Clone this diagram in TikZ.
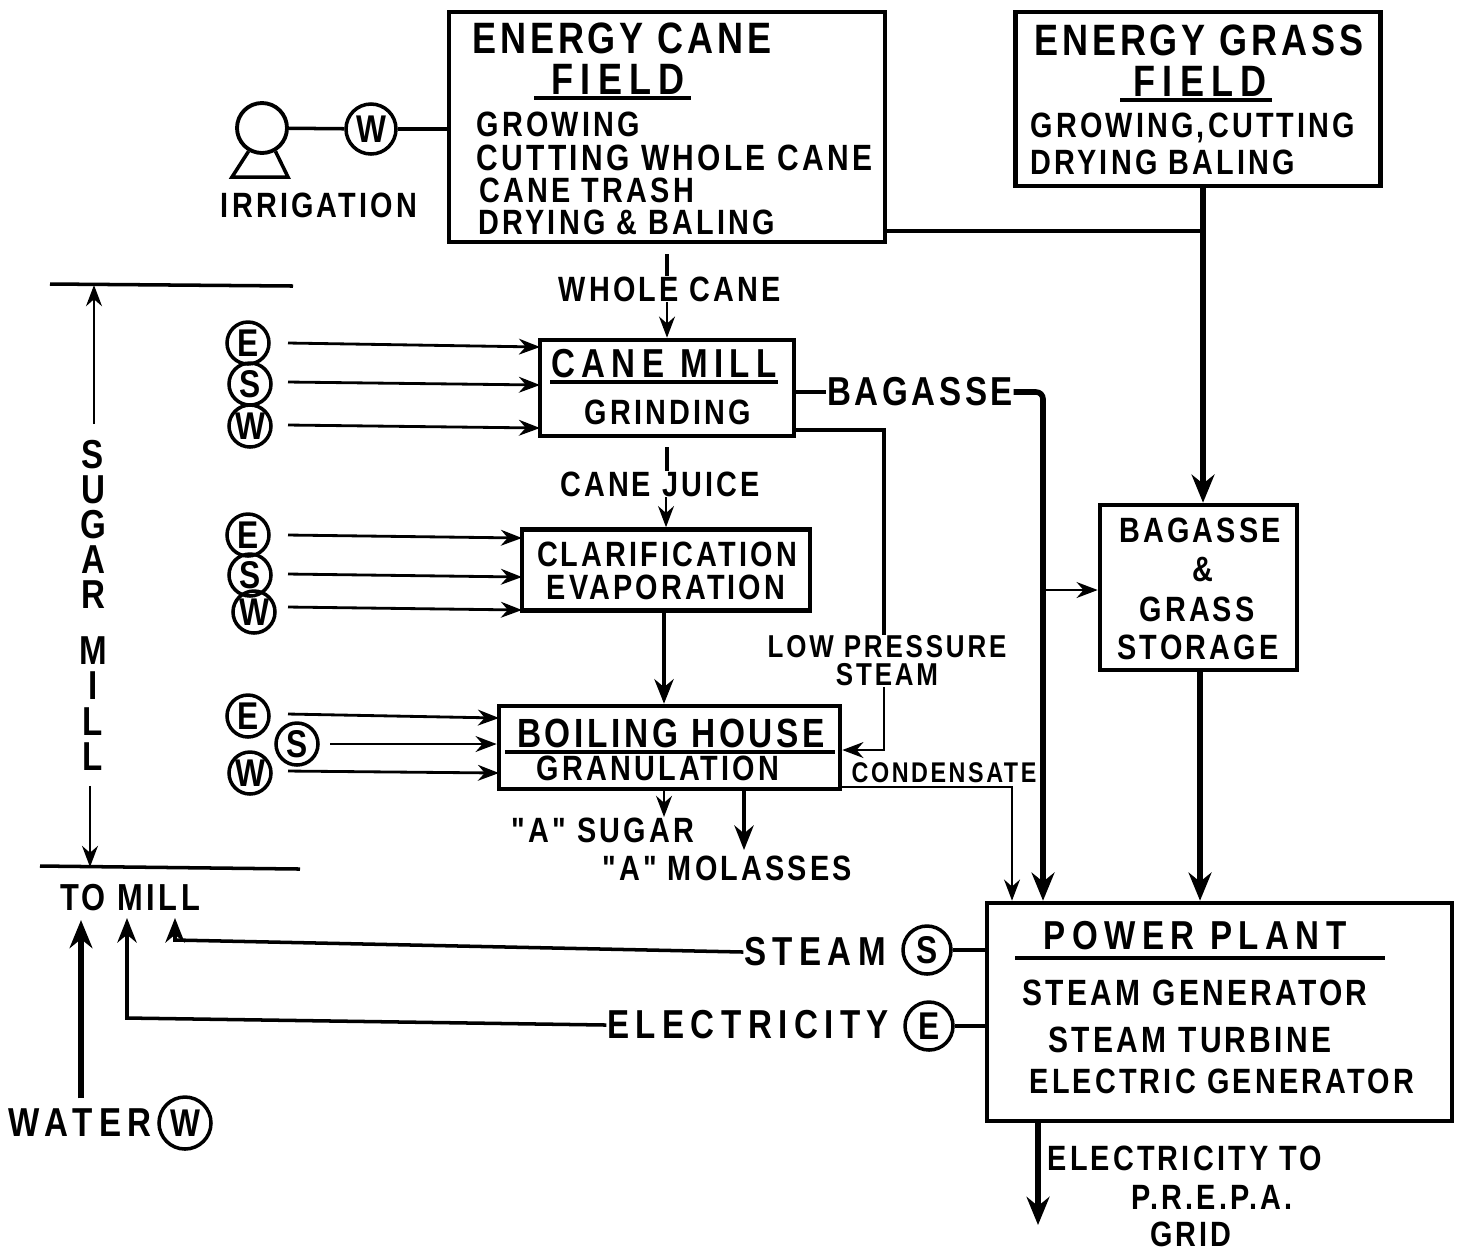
\documentclass[tikz,border=0pt]{standalone}
\usepackage{fontspec}
\newfontfamily\plantfont[LetterSpace=9,FakeStretch=0.82]{Liberation Sans}
\newfontfamily\plantwide[LetterSpace=16,FakeStretch=0.82]{Liberation Sans}
\usetikzlibrary{arrows.meta}
\tikzset{
  procbox/.style={draw,line width=1.3pt,inner sep=0pt},
  bigtxt/.style={inner sep=0pt,font=\plantfont\bfseries\fontsize{12.5}{15}\selectfont},
  fieldtxt/.style={inner sep=0pt,font=\plantwide\bfseries\fontsize{12.5}{15}\selectfont},
  widetxt/.style={inner sep=0pt,font=\plantwide\bfseries\fontsize{11.5}{14}\selectfont},
  smalltxt/.style={inner sep=0pt,font=\plantfont\bfseries\fontsize{10}{12}\selectfont},
  longtxt/.style={inner sep=0pt,font=\plantfont\bfseries\fontsize{10.4}{12}\selectfont},
  tinytxt/.style={inner sep=0pt,font=\plantfont\bfseries\fontsize{9}{11}\selectfont},
  letterc/.style={draw,circle,line width=1pt,inner sep=0pt,minimum size=0.42cm,font=\plantfont\bfseries\fontsize{11}{12}\selectfont},
  titlerule/.style={fill=black,inner sep=0pt,minimum height=1pt},
  flow/.style={line width=1pt,-{Stealth[length=7pt,width=5.5pt]}},
  feed/.style={line width=0.8pt,-{Stealth[length=6pt,width=4.5pt]}},
  heavy/.style={line width=1.6pt,-{Stealth[length=8pt,width=6.5pt]}},
  plain/.style={line width=1pt}
}
\begin{document}
\begin{tikzpicture}
  \useasboundingbox (0,0) rectangle (14.62,-12.49);

  % Fields
  \node[procbox,minimum width=4.36cm,minimum height=2.30cm] (canefield) at (6.67,-1.27) {};
  \node[bigtxt] (canetitle) at (6.22,-0.38) {ENERGY CANE};
  \node[fieldtxt] (canetitleb) at (6.18,-0.79) {FIELD};
  \node[titlerule,minimum width=1.57cm] (canerule) at (6.12,-0.98) {};
  \node[smalltxt,anchor=west] (growing) at (4.76,-1.24) {GROWING};
  \node[longtxt,anchor=west] (cutting) at (4.76,-1.58) {CUTTING WHOLE CANE};
  \node[smalltxt,anchor=west] (trash) at (4.79,-1.90) {CANE TRASH};
  \node[smalltxt,anchor=west] (drying) at (4.78,-2.22) {DRYING \& BALING};

  \node[procbox,minimum width=3.65cm,minimum height=1.74cm] (grassfield) at (11.98,-0.99) {};
  \node[bigtxt] (grasstitle) at (11.99,-0.40) {ENERGY GRASS};
  \node[fieldtxt] (grasstitleb) at (12.00,-0.81) {FIELD};
  \node[titlerule,minimum width=1.52cm] (grassrule) at (11.96,-1.00) {};
  \node[smalltxt,anchor=west] (grassgrow) at (10.30,-1.28) {GROWING,CUTTING};
  \node[smalltxt,anchor=west] (grassdry) at (10.30,-1.62) {DRYING BALING};

  % Irrigation
  \node[draw,circle,line width=1.1pt,minimum size=0.5cm,inner sep=0pt] (pump) at (2.62,-1.28) {};
  \draw[line width=1pt] (pump.240) -- (2.32,-1.77) -- (2.88,-1.77) -- (pump.300);
  \node[letterc,minimum size=0.5cm] (irrw) at (3.71,-1.29) {W};
  \node[smalltxt] (irrigation) at (3.19,-2.05) {IRRIGATION};
  \draw[plain] (pump) -- (irrw);
  \draw[plain] (irrw) -- (canefield.west |- irrw);

  % Sugar mill
  \draw[plain] (0.50,-2.84) coordinate (topl) -- (2.93,-2.86) coordinate (topr);
  \draw[plain] (0.40,-8.66) coordinate (botl) -- (3.00,-8.69) coordinate (botr);
  \node[smalltxt,align=center,font=\plantfont\bfseries\fontsize{11.5}{12}\selectfont] (sugarmill) at (0.93,-6.05) {S\\[-2pt]U\\[-2pt]G\\[-2pt]A\\[-2pt]R\\[4pt]M\\[-2pt]I\\[-2pt]L\\[-2pt]L};
  \coordinate (topa) at (0.94,-2.85);
  \coordinate (bota) at (0.90,-8.67);
  \draw[feed,shorten <=0.15cm] (sugarmill.north -| topa) -- (topa);
  \draw[feed,shorten <=0.15cm] (sugarmill.south -| bota) -- (bota);

  % Cane mill
  \node[procbox,minimum width=2.54cm,minimum height=0.96cm] (canemill) at (6.67,-3.88) {};
  \node[widetxt] (milltitle) at (6.64,-3.64) {CANE MILL};
  \node[titlerule,minimum width=2.28cm] (millrule) at (6.64,-3.82) {};
  \node[smalltxt] (grinding) at (6.68,-4.12) {GRINDING};
  \node[smalltxt] (wholecane) at (6.70,-2.89) {WHOLE CANE};
  \draw[plain,shorten <=0.1cm] (canefield.south) -- (wholecane.north -| canefield.south);
  \draw[feed] (wholecane.south -| canemill.north) -- (canemill.north);

  \node[letterc] (me) at (2.48,-3.43) {E};
  \node[letterc] (ms) at (2.50,-3.84) {S};
  \node[letterc] (mw) at (2.50,-4.26) {W};
  \draw[feed] (2.88,-3.43) coordinate (mea) -- (5.40,-3.47) coordinate (meb);
  \draw[feed] (2.88,-3.82) coordinate (msa) -- (5.40,-3.85) coordinate (msb);
  \draw[feed] (2.88,-4.25) coordinate (mwa) -- (5.40,-4.28) coordinate (mwb);

  % Clarification
  \node[procbox,minimum width=2.88cm,minimum height=0.81cm] (clarif) at (6.66,-5.70) {};
  \node[smalltxt] (clariftxt) at (6.67,-5.54) {CLARIFICATION};
  \node[smalltxt] (evaptxt) at (6.66,-5.87) {EVAPORATION};
  \node[smalltxt] (canejuice) at (6.60,-4.84) {CANE JUICE};
  \draw[plain,shorten <=0.09cm] (canemill.south) -- (canejuice.north -| canemill.south);
  \draw[feed] (canejuice.south -| clarif.north) -- (clarif.north);

  \node[letterc] (ce) at (2.48,-5.35) {E};
  \node[letterc] (cs) at (2.50,-5.75) {S};
  \node[letterc] (cw) at (2.54,-6.12) {W};
  \draw[feed] (2.88,-5.35) coordinate (cea) -- (5.22,-5.38) coordinate (ceb);
  \draw[feed] (2.88,-5.74) coordinate (csa) -- (5.22,-5.77) coordinate (csb);
  \draw[feed] (2.88,-6.07) coordinate (cwa) -- (5.22,-6.10) coordinate (cwb);

  % Boiling house
  \node[procbox,minimum width=3.41cm,minimum height=0.83cm] (boiling) at (6.695,-7.475) {};
  \node[bigtxt,font=\plantfont\bfseries\fontsize{11.6}{14}\selectfont] (boiltitle) at (6.71,-7.33) {BOILING HOUSE};
  \node[titlerule,minimum width=3.30cm] (boilrule) at (6.70,-7.52) {};
  \node[smalltxt] (granul) at (6.58,-7.68) {GRANULATION};
  \draw[flow] (clarif.south -| 6.64,0) -- (boiling.north -| 6.64,0);

  \node[letterc] (be) at (2.48,-7.16) {E};
  \node[letterc] (bs) at (2.97,-7.44) {S};
  \node[letterc] (bw) at (2.50,-7.73) {W};
  \draw[feed] (2.88,-7.14) coordinate (bea) -- (4.99,-7.18) coordinate (beb);
  \draw[feed] (bs) ++(0.33,0) coordinate (bsa) -- (bsa -| boiling.west);
  \draw[feed] (2.88,-7.71) coordinate (bwa) -- (4.99,-7.73) coordinate (bwb);

  \node[smalltxt] (asugar) at (6.03,-8.30) {"A" SUGAR};
  \node[smalltxt] (amolasses) at (7.27,-8.68) {"A" MOLASSES};
  \draw[feed] (boiling.south -| 6.64,0) -- (6.64,-8.17) coordinate (asugarend);
  \draw[flow] (boiling.south -| 7.44,0) -- (7.44,-8.50) coordinate (amolend);

  % Storage
  \node[procbox,minimum width=1.97cm,minimum height=1.65cm] (storage) at (11.985,-5.875) {};
  \node[smalltxt] (st1) at (12.00,-5.30) {BAGASSE};
  \node[smalltxt] (st2) at (12.03,-5.69) {\&};
  \node[smalltxt] (st3) at (11.97,-6.09) {GRASS};
  \node[smalltxt] (st4) at (11.98,-6.47) {STORAGE};

  % Power plant
  \node[procbox,minimum width=4.65cm,minimum height=2.18cm] (power) at (12.195,-10.12) {};
  \node[widetxt] (powertitle) at (11.95,-9.36) {POWER PLANT};
  \node[titlerule,minimum width=3.70cm] (powerrule) at (12.00,-9.58) {};
  \node[longtxt,anchor=west] (pw1) at (10.22,-9.93) {STEAM GENERATOR};
  \node[longtxt,anchor=west] (pw2) at (10.48,-10.40) {STEAM TURBINE};
  \node[smalltxt,anchor=west] (pw3) at (10.29,-10.81) {ELECTRIC GENERATOR};

  % Grass and bagasse lines
  \coordinate (grassjoin) at (12.03,-2.31);
  \draw[heavy] (grassfield.south -| grassjoin) -- (storage.north -| grassjoin);
  \draw[plain] (8.85,-2.31) coordinate (canejoin) -- (grassjoin);
  \draw[heavy] (storage.south -| 12.00,0) -- (power.north -| 12.00,0);

  \node[smalltxt,font=\plantfont\bfseries\fontsize{11.5}{14}\selectfont] (bagasse) at (9.20,-3.92) {BAGASSE};
  \coordinate (bagdown) at (10.43,-3.92);
  \coordinate (bagjoin) at (10.43,-5.90);
  \draw[plain] (canemill.east |- bagasse) -- (bagasse.west);
  \draw[heavy,rounded corners=2pt] (bagasse.east) -- (bagdown) -- (power.north -| bagdown);
  \draw[feed] (bagjoin) -- (storage.west |- bagjoin);

  \node[tinytxt,align=center] (lowsteam) at (8.87,-6.61) {LOW PRESSURE\\[-3pt]STEAM};
  \coordinate (lpa) at (8.84,-4.30);
  \coordinate (lpb) at (8.84,-7.50);
  \draw[plain] (canemill.east |- lpa) -- (lpa) -- (lpa |- lowsteam.north);
  \draw[feed] (lpa |- lowsteam.south) -- (lpb) -- (boiling.east |- lpb);

  \node[tinytxt,font=\plantfont\bfseries\fontsize{8.1}{10}\selectfont] (condensate) at (9.44,-7.73) {CONDENSATE};
  \coordinate (conda) at (10.12,-7.87);
  \draw[feed] (boiling.east |- conda) -- (conda) -- (power.north -| conda);

  % Utilities to mill
  \node[longtxt,font=\plantfont\bfseries\fontsize{10.7}{12}\selectfont] (tomill) at (1.30,-8.98) {TO MILL};
  \node[widetxt] (steamlbl) at (8.15,-9.52) {STEAM};
  \node[widetxt] (eleclbl) at (7.48,-10.25) {ELECTRICITY};
  \node[letterc,minimum size=0.48cm] (ps) at (9.27,-9.50) {S};
  \node[letterc,minimum size=0.48cm] (pe) at (9.29,-10.26) {E};
  \draw[plain] (ps) -- (power.west |- ps);
  \draw[plain] (pe) -- (power.west |- pe);
  \coordinate (steamturn) at (1.75,-9.40);
  \coordinate (steamend) at (1.75,-9.18);
  \coordinate (electurn) at (1.27,-10.18);
  \coordinate (elecend) at (1.27,-9.18);
  \draw[flow] (steamlbl.west) -- (steamturn) -- (steamend);
  \draw[flow] (eleclbl.west) -- (electurn) -- (elecend);

  \node[widetxt] (waterlbl) at (0.80,-11.23) {WATER};
  \node[letterc,minimum size=0.52cm] (pw) at (1.85,-11.23) {W};
  \coordinate (waterend) at (0.81,-9.20);
  \draw[heavy] (waterlbl.north -| waterend) ++(0,0.1) coordinate (waterstart) -- (waterend);

  % Grid
  \node[smalltxt,anchor=west] (grid1) at (10.47,-11.58) {ELECTRICITY TO};
  \node[smalltxt] (grid2) at (12.12,-11.97) {P.R.E.P.A.};
  \node[smalltxt] (grid3) at (11.91,-12.34) {GRID};
  \coordinate (gridend) at (10.38,-12.25);
  \draw[heavy] (power.south -| gridend) -- (gridend);
\end{tikzpicture}
\end{document}
